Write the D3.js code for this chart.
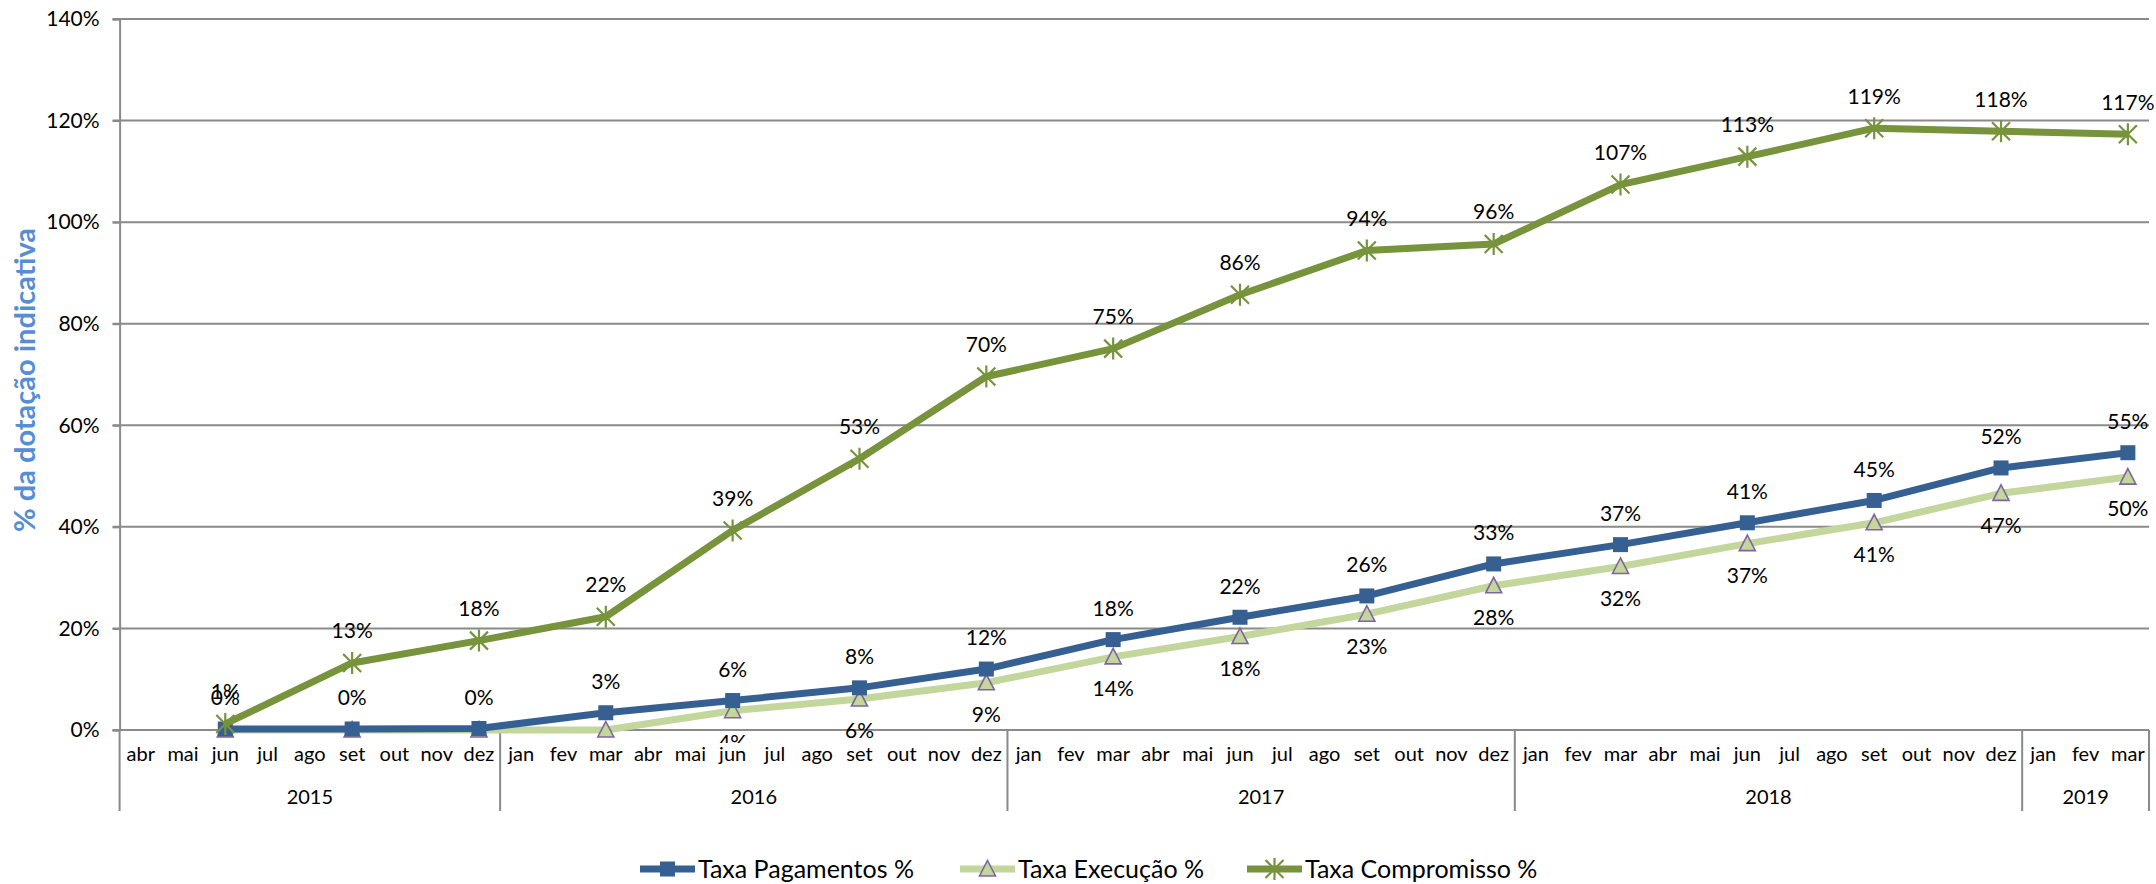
<!DOCTYPE html>
<html><head><meta charset="utf-8">
<script src="https://cdn.jsdelivr.net/npm/d3@7"></script>
<style>
body{margin:0;background:#fff;}
text{font-family:Lato,"Open Sans",sans-serif;fill:#000;}
</style>
</head><body>
<svg id="chart" width="2156" height="884"></svg>
<script>
// ---- data ----
const yearLabels = ["2015","2016","2017","2018","2019"];
const yearMonths = [
  ["abr","mai","jun","jul","ago","set","out","nov","dez"],
  ["jan","fev","mar","abr","mai","jun","jul","ago","set","out","nov","dez"],
  ["jan","fev","mar","abr","mai","jun","jul","ago","set","out","nov","dez"],
  ["jan","fev","mar","abr","mai","jun","jul","ago","set","out","nov","dez"],
  ["jan","fev","mar"]
];
const pointKeys = ["2015-jun","2015-set","2015-dez","2016-mar","2016-jun","2016-set","2016-dez",
  "2017-mar","2017-jun","2017-set","2017-dez","2018-mar","2018-jun","2018-set","2018-dez","2019-mar"];
const pagamentos  = [0.2,0.2,0.3,3.4,5.8,8.3,12.0,17.8,22.2,26.4,32.7,36.5,40.8,45.2,51.6,54.6];
const execucao    = [0,0,0,0,3.8,6.1,9.3,14.4,18.4,22.8,28.4,32.2,36.7,40.8,46.6,49.8];
const compromisso = [1.2,13.2,17.6,22.3,39.3,53.4,69.6,75.1,85.7,94.4,95.7,107.4,112.9,118.5,117.9,117.3];
const yTicks = [0,20,40,60,80,100,120,140];
const seriesNames = ["Taxa Pagamentos %","Taxa Execução %","Taxa Compromisso %"];

// ---- build ----
const categories = [];
yearLabels.forEach((y,i)=>yearMonths[i].forEach(m=>categories.push({key:y+"-"+m, month:m, year:y})));

const svg = d3.select("#chart");
const L = 119.6, R = 2149, T = 19, B = 730;
const x = d3.scaleBand().domain(categories.map(c=>c.key)).range([L,R]);
const y = d3.scaleLinear().domain([0,140]).range([B,T]);
const grid = "#8a8a8a";
const labelFont = 21, clipBottom = 743;

// gridlines
svg.append("g").selectAll("line").data(yTicks).join("line")
  .attr("x1",L-7).attr("x2",R).attr("y1",d=>y(d)).attr("y2",d=>y(d))
  .attr("stroke",grid).attr("stroke-width",2);
// y axis
const yAxis = svg.append("g").attr("transform",`translate(${L},0)`)
  .call(d3.axisLeft(y).tickValues(yTicks).tickFormat(d=>d+"%").tickSize(7).tickPadding(13));
yAxis.select(".domain").attr("stroke",grid).attr("stroke-width",2);
yAxis.selectAll(".tick line").attr("stroke",grid).attr("stroke-width",2);
yAxis.selectAll("text").style("font-size","21px").attr("fill","#000");

// x axis months
const xAxis = svg.append("g").attr("transform",`translate(0,${B})`)
  .call(d3.axisBottom(x).tickSize(0).tickPadding(17).tickFormat(k=>categories.find(c=>c.key===k).month));
xAxis.select(".domain").remove();
xAxis.selectAll("text").style("font-size","20px").attr("fill","#000");

// year separators & labels
const boundaries = [];
yearLabels.forEach((yr,i)=>{
  const first = x(yr+"-"+yearMonths[i][0]);
  const last = x(yr+"-"+yearMonths[i][yearMonths[i].length-1]) + x.bandwidth();
  boundaries.push(first);
  if(i===yearLabels.length-1) boundaries.push(last);
  svg.append("text").attr("x",(first+last)/2).attr("y",797).attr("dy","0.35em")
    .attr("text-anchor","middle").style("font-size","20px").text(yr);
});
svg.append("g").selectAll("line").data(boundaries).join("line")
  .attr("x1",d=>d).attr("x2",d=>d).attr("y1",B).attr("y2",811)
  .attr("stroke",grid).attr("stroke-width",2);

// y title
svg.append("text").attr("transform","translate(25,380) rotate(-90)")
  .attr("text-anchor","middle").attr("dy","0.35em")
  .style("font-size","29px").style("font-weight","bold").style("fill","#558ed5")
  .text("% da dotação indicativa");

// series
const colPag = "#376092", colExe = "#c3d69b", colCom = "#77933c";
const series = [
  {name:seriesNames[0], vals:pagamentos, color:colPag, marker:"square", labelPos:-31},
  {name:seriesNames[1], vals:execucao, color:colExe, marker:"triangle", labelPos:32},
  {name:seriesNames[2], vals:compromisso, color:colCom, marker:"star", labelPos:-32}
];
const line = d3.line().x(d=>x(d.k)+x.bandwidth()/2).y(d=>y(d.v));

function drawMarker(g, type){
  if(type==="square"){
    g.append("rect").attr("x",-7.5).attr("y",-7.5).attr("width",15).attr("height",15).attr("fill",colPag);
  } else if(type==="triangle"){
    g.append("path").attr("d","M0,-8.5L8,7L-8,7Z").attr("fill",colExe).attr("stroke","#8064a2").attr("stroke-width",1.6);
  } else {
    g.append("path").attr("d","M-9,-9L9,9M-9,9L9,-9M0,-11V11").attr("stroke",colCom).attr("stroke-width",2.2).attr("fill","none");
  }
}

const defs = svg.append("defs");
defs.append("clipPath").attr("id","lblclip").append("rect").attr("x",0).attr("y",0).attr("width",2156).attr("height",clipBottom);

// draw order: execucao, pagamentos, compromisso lines
[series[1],series[0],series[2]].forEach(s=>{
  const pts = pointKeys.map((k,i)=>({k, v:s.vals[i]}));
  svg.append("path").datum(pts).attr("d",line).attr("fill","none")
    .attr("stroke",s.color).attr("stroke-width",7).attr("stroke-linejoin","round");
  pts.forEach(p=>{
    const g = svg.append("g").attr("transform",`translate(${x(p.k)+x.bandwidth()/2},${y(p.v)})`);
    drawMarker(g, s.marker);
  });
});
const lblG = svg.append("g").attr("clip-path","url(#lblclip)");
series.forEach(s=>{
  pointKeys.forEach((k,i)=>{
    const cy = y(s.vals[i])+s.labelPos;
    if(cy - labelFont*0.45 > clipBottom) return; // fully hidden behind the category axis
    lblG.append("text").attr("x",x(k)+x.bandwidth()/2).attr("y",cy)
      .attr("dy","0.35em").attr("text-anchor","middle").style("font-size",labelFont+"px")
      .text(Math.round(s.vals[i])+"%");
  });
});

// legend
const legX = [640, 960, 1247];
series.forEach((s,i)=>{
  const g = svg.append("g").attr("transform",`translate(${legX[i]},869)`);
  g.append("line").attr("x1",0).attr("x2",55).attr("y1",0).attr("y2",0)
    .attr("stroke",s.color).attr("stroke-width",7);
  const m = g.append("g").attr("transform","translate(27.5,0)");
  drawMarker(m, s.marker);
  g.append("text").attr("x",58).attr("dy","0.35em").style("font-size","25px").text(s.name);
});
</script>
</body></html>
